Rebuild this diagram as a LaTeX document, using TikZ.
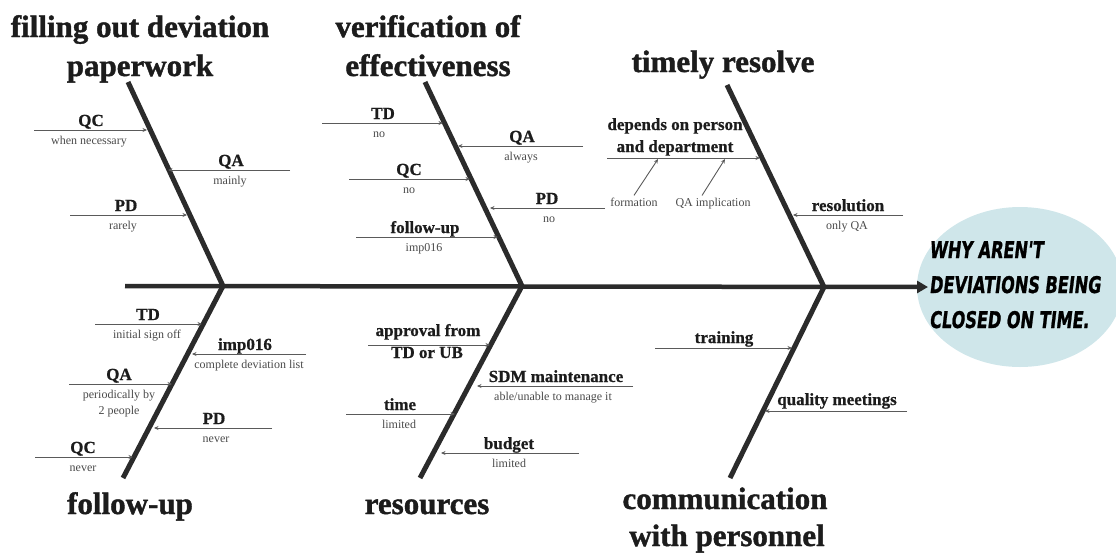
\documentclass[tikz,border=0pt]{standalone}
\usepackage{fontspec}
\setmainfont{Liberation Serif}
\newfontfamily\displayfont{Liberation Serif}[BoldFeatures={FakeBold=1.3}]
\newfontfamily\labelfont{Liberation Serif}[BoldFeatures={FakeBold=0.7}]
\newfontfamily\posterfont{DejaVu Sans}[FakeStretch=0.7,FakeSlant=0.12,BoldFeatures={FakeBold=1}]
\usetikzlibrary{arrows.meta,shapes.geometric}

\definecolor{bonecol}{HTML}{2B2B2B}
\definecolor{ribcol}{HTML}{5A5A5A}
\definecolor{notecol}{HTML}{4A4A4A}
\definecolor{headcol}{HTML}{1C1C1C}
\definecolor{goalfill}{HTML}{CFE6EA}

\tikzset{
  bone/.style={draw=bonecol, line width=5pt, line join=miter},
  spine/.style={draw=bonecol, line width=4.5pt, -{Triangle[length=11pt,width=12pt]}},
  rib/.style={draw=ribcol, line width=0.9pt, -{Stealth[length=4.5pt,width=4pt]}},
  head/.style={font=\displayfont\bfseries\fontsize{31}{31}\selectfont, text=headcol, anchor=base, inner sep=0pt},
  cause/.style={font=\labelfont\bfseries\fontsize{17}{17}\selectfont, text=headcol, anchor=base, inner sep=0pt},
  note/.style={font=\fontsize{12}{12}\selectfont, text=notecol, anchor=base, inner sep=0pt},
  goaltext/.style={font=\posterfont\bfseries\fontsize{23}{23}\selectfont, text=black, anchor=base west, inner sep=0pt}
}

% one horizontal cause arrow with a bold label above and a note below
\newcommand\causerib[8]{%
  \coordinate (#1s) at (#2,#4);
  \coordinate (#1e) at (#3,#4);
  \draw[rib] (#1s) -- (#1e);
  \node[cause] (#1l) at (#5,#4-4) {#6};
  \node[note] (#1n) at (#7,#4+14) {#8};
}

\begin{document}
\begin{tikzpicture}[x=1pt,y=-1pt]
\useasboundingbox (0,0) rectangle (1116,555);

% effect
\node[ellipse, fill=goalfill, minimum width=206pt, minimum height=160pt, inner sep=0pt] (goal) at (1020,287) {};
\node[goaltext] (g1) at (929,258) {WHY AREN'T};
\node[goaltext] (g2) at (929,293) {DEVIATIONS BEING};
\node[goaltext] (g3) at (929,328) {CLOSED ON TIME.};

% spine and bones
\coordinate (tail) at (125,286);
\coordinate (tip) at (928,287);
\coordinate (J1) at (223,286);
\coordinate (J2) at (522,286);
\coordinate (J3) at (824,287);
\coordinate (B1t) at (128,82);
\coordinate (B1b) at (123,478);
\coordinate (B2t) at (425,82);
\coordinate (B2b) at (420,478);
\coordinate (B3t) at (727,85);
\coordinate (B3b) at (730,478);
\draw[spine] (tail) -- (tip);
\draw[bone] (B1t) -- (J1) -- (B1b);
\draw[bone] (B2t) -- (J2) -- (B2b);
\draw[bone] (B3t) -- (J3) -- (B3b);

% category headings
\node[head] (h1a) at (140,37) {filling out deviation};
\node[head] (h1b) at (140,76) {paperwork};
\node[head] (h2a) at (428,37) {verification of};
\node[head] (h2b) at (428,76) {effectiveness};
\node[head] (h3) at (723,72) {timely resolve};
\node[head] (h4) at (130,514) {follow-up};
\node[head] (h5) at (427,514) {resources};
\node[head] (h6a) at (725,509) {communication};
\node[head] (h6b) at (727,546) {with personnel};

% filling out deviation paperwork
\causerib{pa}{34}{147}{130}{91}{QC}{89}{when necessary}
\causerib{pb}{290}{168}{170}{231}{QA}{230}{mainly}
\causerib{pc}{70}{187}{215}{126}{PD}{123}{rarely}

% verification of effectiveness
\causerib{va}{322}{443}{123}{383}{TD}{379}{no}
\causerib{vb}{583}{458}{146}{522}{QA}{521}{always}
\causerib{vc}{349}{470}{179}{409}{QC}{409}{no}
\causerib{vd}{605}{490}{208}{547}{PD}{549}{no}
\causerib{ve}{356}{498}{237}{425}{follow-up}{424}{imp016}

% timely resolve
\coordinate (tas) at (607,158);
\coordinate (tae) at (760,158);
\draw[rib] (tas) -- (tae);
\node[cause] (tal1) at (675,130) {depends on person};
\node[cause] (tal2) at (675,152) {and department};
\node[note] (form) at (634,206) {formation};
\node[note] (qaimp) at (713,206) {QA implication};
\coordinate (formtip) at (658,159);
\coordinate (qaimptip) at (725,159);
\draw[rib] (form.north) ++(0,-2) -- (formtip);
\draw[rib] (qaimp.north) ++(-11,-2) -- (qaimptip);
\causerib{tb}{903}{793}{215}{848}{resolution}{847}{only QA}

% follow-up
\causerib{fa}{95}{202}{324}{148}{TD}{147}{initial sign off}
\causerib{fb}{306}{192}{354}{245}{imp016}{249}{complete deviation list}
\coordinate (fcs) at (69,384);
\coordinate (fce) at (172,384);
\draw[rib] (fcs) -- (fce);
\node[cause] (fcl) at (119,380) {QA};
\node[note] (fcn1) at (119,398) {periodically by};
\node[note] (fcn2) at (119,414) {2 people};
\causerib{fd}{272}{154}{428}{214}{PD}{216}{never}
\causerib{fe}{35}{133}{457}{83}{QC}{83}{never}

% resources
\coordinate (ras) at (368,345);
\coordinate (rae) at (490,345);
\draw[rib] (ras) -- (rae);
\node[cause] (ral1) at (428,336) {approval from};
\node[cause] (ral2) at (427,358) {TD or UB};
\causerib{rb}{633}{477}{386}{556}{SDM maintenance}{553}{able/unable to manage it}
\causerib{rc}{346}{455}{414}{400}{time}{399}{limited}
\causerib{rd}{579}{441}{453}{509}{budget}{509}{limited}

% communication with personnel
\coordinate (cas) at (655,348);
\coordinate (cae) at (792,348);
\draw[rib] (cas) -- (cae);
\node[cause] (cal) at (724,343) {training};
\coordinate (cbs) at (907,411);
\coordinate (cbe) at (765,411);
\draw[rib] (cbs) -- (cbe);
\node[cause] (cbl) at (837,405) {quality meetings};
\end{tikzpicture}
\end{document}
